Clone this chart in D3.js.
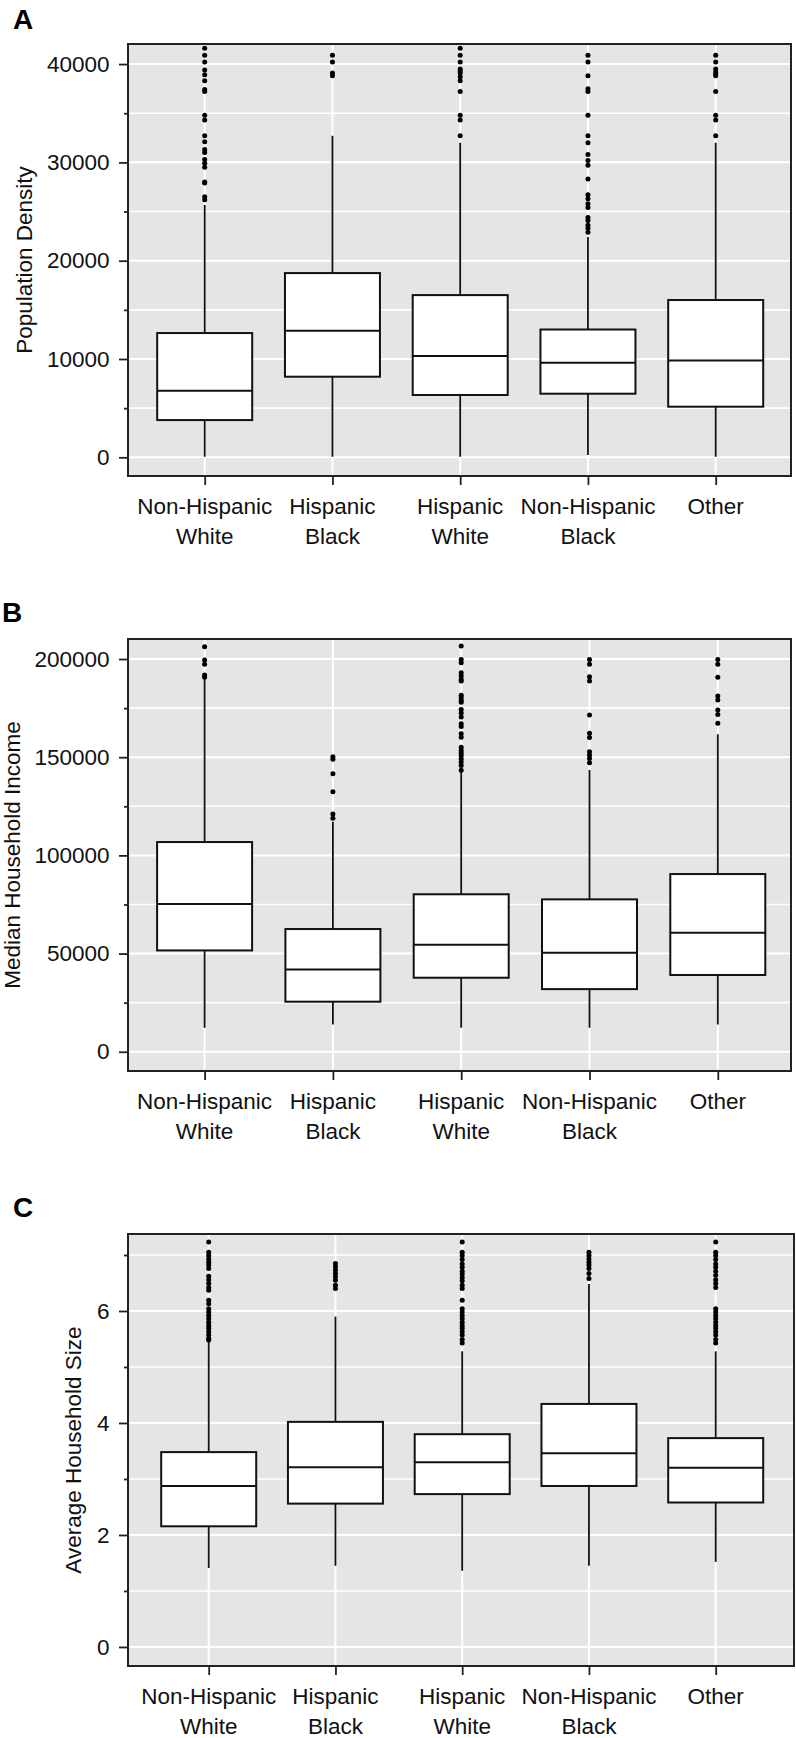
<!DOCTYPE html>
<html>
<head>
<meta charset="utf-8">
<script src="https://cdn.jsdelivr.net/npm/d3@7"></script>
<style>
  body { margin: 0; background: #fff; }
  svg { display: block; font-family: "Liberation Sans", Arial, Helvetica, sans-serif; }
</style>
</head>
<body>
<svg width="796" height="1738"></svg>
<script>
// categories, two label lines each
var categories = ["NHW", "HB", "HW", "NHB", "OTH"];
var categoryLines = [["Non-Hispanic", "White"], ["Hispanic", "Black"], ["Hispanic", "White"], ["Non-Hispanic", "Black"], ["Other"]];

// box stats: [whisker low, q1, median, q3, whisker high]
var densityStats = [
    [60, 3790, 6770, 12640, 25660],
    [60, 8200, 12880, 18740, 32700],
    [60, 6340, 10300, 16500, 32000],
    [230, 6470, 9620, 13000, 22400],
    [60, 5150, 9860, 16000, 32000]
];
var densityOutliers = [
    [41600, 40900, 40200, 39400, 38900, 38300, 37400, 37200, 34800, 34300, 32700, 32100, 31300, 31000, 30300, 29900, 29500, 28000, 27900, 26500, 26200],
    [40900, 40200, 39100, 38800],
    [41600, 40900, 40200, 39500, 39300, 39100, 38700, 38300, 37200, 34800, 34300, 32700],
    [40900, 40200, 38800, 37500, 37200, 34800, 32700, 32000, 30800, 30200, 29700, 28300, 26700, 26300, 25800, 25400, 24400, 24100, 23600, 23300, 22900],
    [40900, 40200, 39500, 39200, 39000, 38800, 37200, 34800, 34300, 32700]
];
var densityTicks = [0, 10000, 20000, 30000, 40000];
var densityMinor = [5000, 15000, 25000, 35000];

var incomeStats = [
    [12200, 51600, 75200, 106800, 189700],
    [13900, 25500, 41900, 62500, 117100],
    [12200, 37700, 54500, 80200, 142600],
    [12200, 31900, 50400, 77600, 143500],
    [13900, 39100, 60600, 90500, 161700]
];
var incomeOutliers = [
    [206300, 199500, 197300, 191900, 190700],
    [150200, 148900, 141600, 132400, 121100, 118900],
    [206600, 199800, 198100, 193000, 191300, 189600, 188800, 181500, 180400, 179000, 178000, 174300, 172500, 170500, 167100, 165700, 162000, 160200, 155100, 153400, 152100, 150900, 149200, 147500, 145800, 143300],
    [199800, 197300, 191000, 188800, 171500, 162200, 160100, 152800, 151100, 149400, 147200],
    [199800, 197300, 190700, 181200, 179100, 174000, 171800, 167300]
];
var incomeTicks = [0, 50000, 100000, 150000, 200000];
var incomeMinor = [25000, 75000, 125000, 175000];

var sizeStats = [
    [1.41, 2.155, 2.875, 3.48, 5.45],
    [1.45, 2.56, 3.21, 4.02, 5.9],
    [1.36, 2.73, 3.30, 3.80, 5.28],
    [1.45, 2.875, 3.46, 4.34, 6.48],
    [1.52, 2.58, 3.20, 3.73, 5.28]
];
var sizeOutliers = [
    [7.23, 7.05, 6.99, 6.93, 6.87, 6.82, 6.76, 6.62, 6.56, 6.49, 6.42, 6.37, 6.19, 6.13, 6.04, 5.98, 5.92, 5.86, 5.80, 5.74, 5.69, 5.63, 5.57, 5.51, 5.48],
    [6.85, 6.79, 6.73, 6.67, 6.61, 6.55, 6.46, 6.40],
    [7.23, 7.05, 6.99, 6.92, 6.84, 6.78, 6.71, 6.66, 6.60, 6.54, 6.46, 6.40, 6.19, 6.04, 5.98, 5.92, 5.86, 5.80, 5.74, 5.69, 5.63, 5.57, 5.49, 5.43],
    [7.05, 6.99, 6.93, 6.87, 6.82, 6.76, 6.67, 6.58],
    [7.23, 7.05, 6.99, 6.92, 6.84, 6.78, 6.71, 6.64, 6.56, 6.49, 6.42, 6.04, 5.98, 5.92, 5.86, 5.80, 5.74, 5.69, 5.63, 5.57, 5.49, 5.43]
];
var sizeTicks = [0, 2, 4, 6];
var sizeMinor = [1, 3, 5, 7];

var panels = [
    {label: "A", lx: 13, ly: 29, title: "Population Density", tx: 32,
     l: 128, r: 791, t: 44, b: 476, xr: [204.7, 715.7], domain: [-1900, 42040],
     stats: densityStats, outliers: densityOutliers, ticks: densityTicks, minor: densityMinor},
    {label: "B", lx: 2, ly: 622, title: "Median Household Income", tx: 20,
     l: 128, r: 791, t: 639, b: 1071, xr: [204.6, 717.8], domain: [-9800, 210200],
     stats: incomeStats, outliers: incomeOutliers, ticks: incomeTicks, minor: incomeMinor},
    {label: "C", lx: 13, ly: 1217, title: "Average Household Size", tx: 81,
     l: 128, r: 794, t: 1234, b: 1666, xr: [208.7, 715.7], domain: [-0.34, 7.375],
     stats: sizeStats, outliers: sizeOutliers, ticks: sizeTicks, minor: sizeMinor}
];

var svg = d3.select("svg");
var fontSize = 22.5;
var boxWidth = 95;

panels.forEach(function(p) {
    var x = d3.scalePoint().domain(categories).range(p.xr);
    var y = d3.scaleLinear().domain(p.domain).range([p.b, p.t]);
    var g = svg.append("g");

    // panel background
    g.append("rect")
        .attr("x", p.l).attr("y", p.t)
        .attr("width", p.r - p.l).attr("height", p.b - p.t)
        .attr("fill", "#e5e5e5");

    // grid
    g.selectAll(".minor").data(p.minor).enter().append("line")
        .attr("x1", p.l).attr("x2", p.r)
        .attr("y1", d => y(d)).attr("y2", d => y(d))
        .attr("stroke", "#fff").attr("stroke-width", 1.6);
    g.selectAll(".major").data(p.ticks).enter().append("line")
        .attr("x1", p.l).attr("x2", p.r)
        .attr("y1", d => y(d)).attr("y2", d => y(d))
        .attr("stroke", "#fff").attr("stroke-width", 2);
    g.selectAll(".vgrid").data(categories).enter().append("line")
        .attr("x1", d => x(d)).attr("x2", d => x(d))
        .attr("y1", p.t).attr("y2", p.b)
        .attr("stroke", "#fff").attr("stroke-width", 2);

    // whiskers
    g.selectAll(".whisker").data(p.stats).enter().append("line")
        .attr("x1", (d, i) => x(categories[i])).attr("x2", (d, i) => x(categories[i]))
        .attr("y1", d => y(d[0])).attr("y2", d => y(d[4]))
        .attr("stroke", "#111").attr("stroke-width", 1.8);

    // boxes
    g.selectAll(".box").data(p.stats).enter().append("rect")
        .attr("x", (d, i) => x(categories[i]) - boxWidth / 2)
        .attr("width", boxWidth)
        .attr("y", d => y(d[3]))
        .attr("height", d => y(d[1]) - y(d[3]))
        .attr("fill", "#fff").attr("stroke", "#111").attr("stroke-width", 2);
    g.selectAll(".median").data(p.stats).enter().append("line")
        .attr("x1", (d, i) => x(categories[i]) - boxWidth / 2)
        .attr("x2", (d, i) => x(categories[i]) + boxWidth / 2)
        .attr("y1", d => y(d[2])).attr("y2", d => y(d[2]))
        .attr("stroke", "#111").attr("stroke-width", 2);

    // outliers
    p.outliers.forEach(function(vals, i) {
        g.selectAll(null).data(vals).enter().append("circle")
            .attr("cx", x(categories[i]))
            .attr("cy", d => y(d))
            .attr("r", 2.5)
            .attr("fill", "#000");
    });

    // frame
    g.append("rect")
        .attr("x", p.l).attr("y", p.t)
        .attr("width", p.r - p.l).attr("height", p.b - p.t)
        .attr("fill", "none").attr("stroke", "#222").attr("stroke-width", 2);

    // y axis, major ticks with labels
    var yAxis = d3.axisLeft(y).tickValues(p.ticks).tickFormat(d3.format("d"))
        .tickSize(9).tickSizeOuter(0).tickPadding(9.5);
    var ya = g.append("g").attr("transform", "translate(" + p.l + ",0)").call(yAxis);
    ya.select(".domain").remove();
    ya.selectAll("line").attr("stroke", "#222").attr("stroke-width", 1.8);
    ya.selectAll("text").attr("font-size", fontSize).attr("fill", "#111")
        .attr("font-family", "Liberation Sans, Arial, sans-serif");

    // y axis, minor ticks
    var ym = g.append("g").attr("transform", "translate(" + p.l + ",0)")
        .call(d3.axisLeft(y).tickValues(p.minor).tickSize(4).tickSizeOuter(0).tickFormat(""));
    ym.select(".domain").remove();
    ym.selectAll("line").attr("stroke", "#222").attr("stroke-width", 1.8);

    // x axis ticks
    var xa = g.append("g").attr("transform", "translate(0," + p.b + ")")
        .call(d3.axisBottom(x).tickSize(9).tickSizeOuter(0).tickFormat(""));
    xa.select(".domain").remove();
    xa.selectAll("line").attr("stroke", "#222").attr("stroke-width", 1.8);

    // x labels
    var labels = g.selectAll(".xlab").data(categories).enter().append("text")
        .attr("x", d => x(d))
        .attr("y", p.b + 38)
        .attr("text-anchor", "middle")
        .attr("font-size", fontSize)
        .attr("fill", "#111");
    labels.each(function(d, i) {
        var t = d3.select(this);
        categoryLines[i].forEach(function(line, j) {
            t.append("tspan").attr("x", x(d)).attr("dy", j === 0 ? 0 : 29.5).text(line);
        });
    });

    // y title
    g.append("text")
        .attr("transform", "translate(" + p.tx + "," + ((p.t + p.b) / 2) + ") rotate(-90)")
        .attr("text-anchor", "middle")
        .attr("font-size", 22.5)
        .attr("fill", "#111")
        .text(p.title);

    // panel letter
    g.append("text")
        .attr("x", p.lx).attr("y", p.ly)
        .attr("font-size", 28)
        .attr("font-weight", "bold")
        .attr("fill", "#000")
        .text(p.label);
});
</script>
</body>
</html>
